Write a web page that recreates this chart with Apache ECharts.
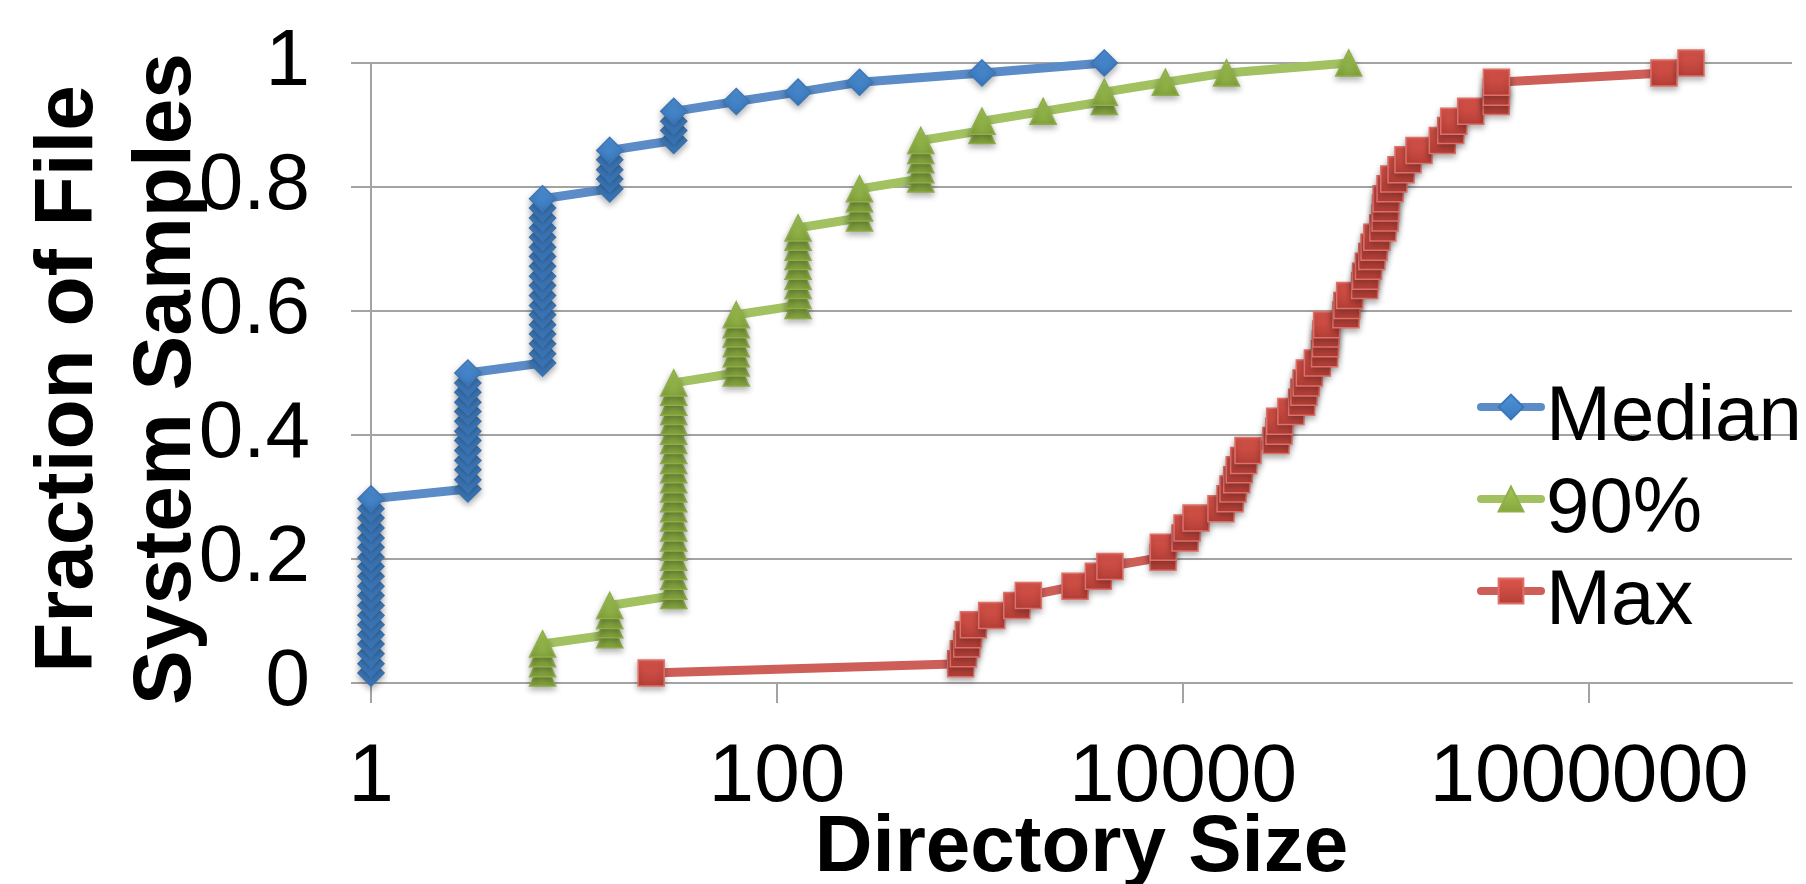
<!DOCTYPE html>
<html>
<head>
<meta charset="utf-8">
<script src="https://cdn.jsdelivr.net/npm/echarts@6/dist/echarts.min.js"></script>
<style>
html,body{margin:0;padding:0;background:#ffffff;}
#chart{width:1806px;height:884px;}
</style>
</head>
<body>
<div id="chart"></div>
<script>
// Cumulative fraction of file system samples (one level per sample)
const fractions = [
  0.016, 0.031, 0.047, 0.063, 0.078, 0.094, 0.109, 0.125, 0.141, 0.156,
  0.172, 0.188, 0.203, 0.219, 0.234, 0.25, 0.266, 0.281, 0.297, 0.313,
  0.328, 0.344, 0.359, 0.375, 0.391, 0.406, 0.422, 0.438, 0.453, 0.469,
  0.484, 0.5, 0.516, 0.531, 0.547, 0.563, 0.578, 0.594, 0.609, 0.625,
  0.641, 0.656, 0.672, 0.688, 0.703, 0.719, 0.734, 0.75, 0.766, 0.781,
  0.797, 0.813, 0.828, 0.844, 0.859, 0.875, 0.891, 0.906, 0.922, 0.938,
  0.953, 0.969, 0.984, 1
];

// Directory size for each sample, per series
const medianSizes = [
  1, 1, 1, 1, 1, 1, 1, 1, 1, 1, 1, 1, 1, 1, 1, 1, 1, 1, 1,
  3, 3, 3, 3, 3, 3, 3, 3, 3, 3, 3, 3, 3,
  7, 7, 7, 7, 7, 7, 7, 7, 7, 7, 7, 7, 7, 7, 7, 7, 7, 7,
  15, 15, 15, 15, 15,
  31, 31, 31, 31,
  63, 127, 255, 1023, 4095
];

const p90Sizes = [
  7, 7, 7, 7,
  15, 15, 15, 15,
  31, 31, 31, 31, 31, 31, 31, 31, 31, 31, 31, 31, 31, 31, 31, 31, 31, 31, 31, 31, 31, 31, 31,
  63, 63, 63, 63, 63, 63, 63,
  127, 127, 127, 127, 127, 127, 127, 127, 127,
  255, 255, 255, 255,
  511, 511, 511, 511, 511,
  1023, 1023,
  2047,
  4095, 4095,
  8191, 16383, 65535
];

const maxSizes = [
  24, 803, 828, 860, 876, 927, 1142, 1517, 1730, 2938,
  3828, 4365, 7970, 8000, 10230, 10470, 11590, 15380, 17050, 17630,
  18390, 18930, 19900, 20900, 28700, 29700, 29950, 34000, 38400, 39400,
  40400, 41900, 45900, 49800, 50300, 50600, 51000, 63500, 64200, 66200,
  78500, 79300, 81900, 85100, 87300, 90100, 96400, 98900, 99500, 100200,
  104700, 109200, 118600, 128300, 145400, 189400, 208300, 215500, 261400, 349000,
  349500, 350000, 2340000, 3180000
];

const seriesNames = ['Median', '90%', 'Max'];
const xTickValues = [1, 100, 10000, 1000000];
const xAxisTitle = 'Directory Size';
const yAxisTitle = 'Fraction of File\nSystem Samples';

function makeSeries(name, sizes, symbol, lineColor, topColor, bottomColor, borderColor) {
  return {
    name: name,
    type: 'line',
    data: sizes.map(function (s, i) { return [s, fractions[i]]; }),
    symbol: symbol,
    symbolSize: 26,
    showAllSymbol: true,
    lineStyle: { color: lineColor, width: 9, cap: 'round', join: 'round' },
    itemStyle: {
      color: {
        type: 'linear', x: 0, y: 0, x2: 0, y2: 1,
        colorStops: [{ offset: 0, color: topColor }, { offset: 1, color: bottomColor }]
      },
      borderColor: borderColor,
      borderWidth: 1.5,
      shadowColor: 'rgba(0,0,0,0.3)',
      shadowBlur: 6,
      shadowOffsetY: 3
    },
    emphasis: { disabled: true },
    animation: false
  };
}

const chart = echarts.init(document.getElementById('chart'), null, { renderer: 'canvas' });
const axisGray = '#a3a3a3';
chart.setOption({
  backgroundColor: '#ffffff',
  animation: false,
  grid: { left: 371, right: 14, top: 63, bottom: 201, containLabel: false, outerBoundsMode: 'none' },
  legend: {
    orient: 'vertical',
    left: 1472,
    top: 352,
    itemWidth: 60,
    itemHeight: 31,
    itemGap: -8,
    selectedMode: false,
    data: seriesNames,
    lineStyle: { width: 8, cap: 'round' },
    formatter: function (name) { return '{t|' + name + '}'; },
    textStyle: {
      fontSize: 78, fontFamily: 'Liberation Sans', color: '#000000',
      rich: {
        t: { fontSize: 78, fontFamily: 'Liberation Sans', color: '#000000', lineHeight: 78, padding: [22, 0, 0, 0] }
      }
    }
  },
  xAxis: {
    type: 'log',
    logBase: 10,
    min: 1,
    max: 10000000,
    name: xAxisTitle,
    nameLocation: 'middle',
    nameGap: 126,
    nameMoveOverlap: false,
    nameTextStyle: { fontSize: 80, fontWeight: 'bold', fontFamily: 'Liberation Sans', color: '#000000' },
    axisLine: { show: true, lineStyle: { color: axisGray, width: 2 } },
    axisTick: { show: true, length: 20, customValues: xTickValues, lineStyle: { color: axisGray, width: 2 } },
    axisLabel: {
      customValues: xTickValues,
      fontSize: 82, fontFamily: 'Liberation Sans', color: '#000000', margin: 54,
      formatter: function (v) { return String(Math.round(v)); }
    },
    splitLine: { show: false },
    minorTick: { show: false }
  },
  yAxis: {
    type: 'value',
    min: 0,
    max: 1,
    interval: 0.2,
    name: yAxisTitle,
    nameLocation: 'middle',
    nameRotate: 90,
    nameGap: 155,
    nameMoveOverlap: false,
    nameTextStyle: {
      fontSize: 82, fontWeight: 'bold', fontFamily: 'Liberation Sans', color: '#000000',
      lineHeight: 98, padding: [0, 12, 0, 0]
    },
    axisLine: { show: true, lineStyle: { color: axisGray, width: 2 } },
    axisTick: { show: true, length: 20, lineStyle: { color: axisGray, width: 2 } },
    axisLabel: {
      fontSize: 80, fontFamily: 'Liberation Sans', color: '#000000', margin: 61,
      formatter: function (v) { return String(Math.round(v * 10) / 10); }
    },
    splitLine: { show: true, lineStyle: { color: axisGray, width: 2 } }
  },
  series: [
    makeSeries(seriesNames[0], medianSizes, 'diamond', '#5b8cc7', '#4f93d8', '#3a78be', '#3b76b8'),
    makeSeries(seriesNames[1], p90Sizes, 'triangle', '#a2c262', '#a6cb57', '#84a53d', '#8fae4a'),
    makeSeries(seriesNames[2], maxSizes, 'rect', '#cd5f58', '#dd564c', '#b53f37', '#e0706a')
  ]
});
</script>
</body>
</html>
